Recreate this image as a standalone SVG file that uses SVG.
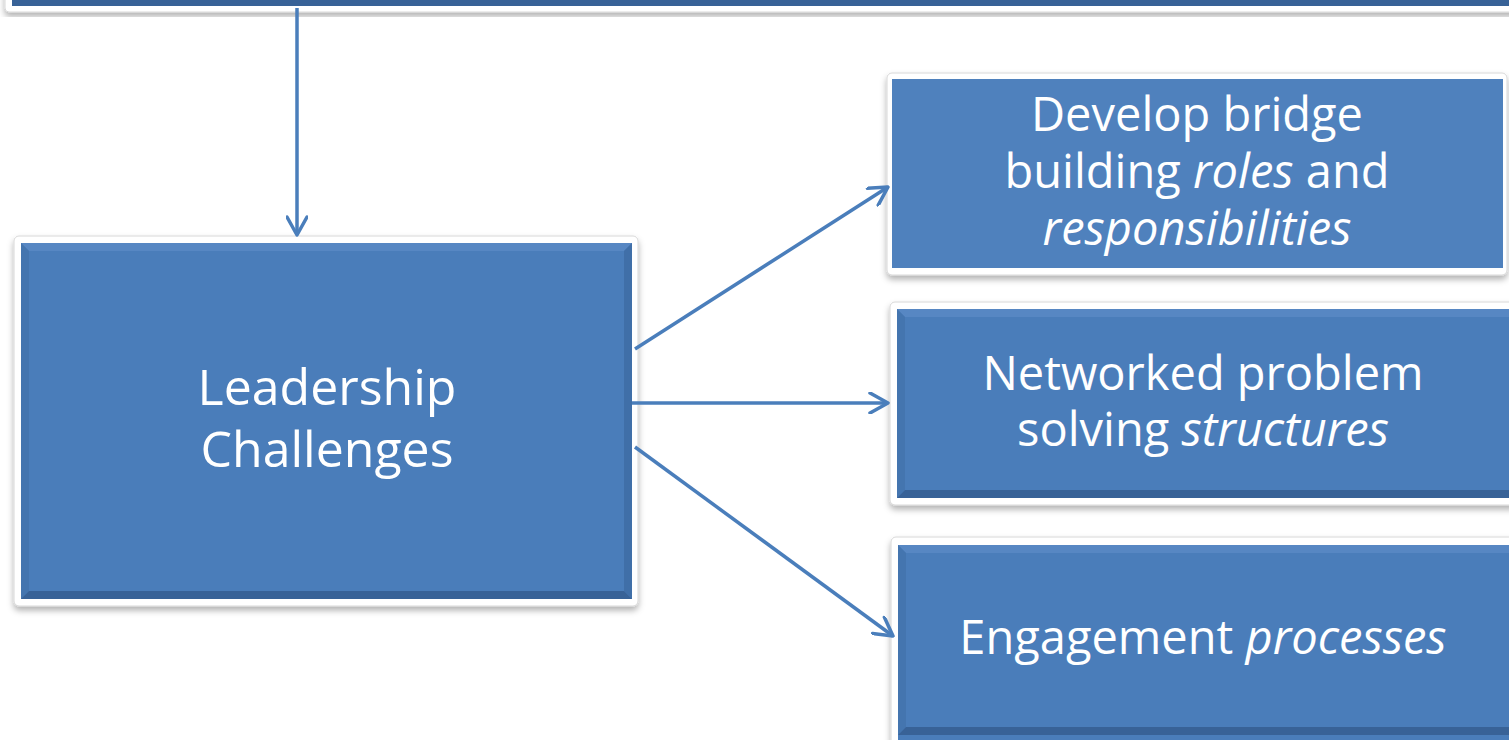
<svg xmlns="http://www.w3.org/2000/svg" width="1509" height="740" viewBox="0 0 1509 740">
  <defs>
    <filter id="shadow" x="-5%" y="-5%" width="110%" height="115%">
      <feDropShadow dx="0" dy="4" stdDeviation="3" flood-color="#000" flood-opacity="0.3"/>
    </filter>
    <marker id="arrow" viewBox="0 0 22 22" refX="20" refY="11" markerWidth="22" markerHeight="22" markerUnits="userSpaceOnUse" orient="auto">
      <path d="M2,1 L20,11 L2,21" fill="none" stroke="#4A7EBB" stroke-width="3.5" stroke-linecap="round" stroke-linejoin="round"/>
    </marker>
  </defs>
  <style>
    .frame { fill: #ffffff; stroke: #d8d8d8; stroke-width: 1; filter: url(#shadow); }
    .face { fill: #4A7DBA; }
    .flat { fill: #4F81BD; }
    .top { fill: #5787C3; }
    .left { fill: #4475AF; }
    .right { fill: #406FA8; }
    .bottom { fill: #386297; }
    .label { font-family: "Open Sans", "Liberation Sans", sans-serif; fill: #ffffff; text-anchor: middle; }
    .conn { fill: none; stroke: #4A7EBB; stroke-width: 3.5; marker-end: url(#arrow); }
  </style>

  <!-- upper block, mostly outside the canvas -->
  <g id="node-top">
    <rect class="frame" x="5" y="-30" width="1520" height="42" rx="4"/>
    <rect class="face" x="12" y="-30" width="1510" height="36"/>
    <rect class="bottom" x="12" y="0" width="1510" height="6"/>
  </g>

  <!-- Leadership Challenges -->
  <g id="node-leadership">
    <rect class="frame" x="14" y="236" width="624" height="370" rx="5"/>
    <rect class="face" x="21" y="243" width="611" height="356"/>
    <polygon class="top" points="21,243 632,243 624,251 29,251"/>
    <polygon class="left" points="21,243 29,251 29,591 21,599"/>
    <polygon class="right" points="632,243 632,599 624,591 624,251"/>
    <polygon class="bottom" points="21,599 29,591 624,591 632,599"/>
    <text class="label" font-size="50"><tspan x="327" y="405">Leadership</tspan><tspan x="327" y="467">Challenges</tspan></text>
  </g>

  <!-- Develop bridge building roles and responsibilities -->
  <g id="node-roles">
    <rect class="frame" x="887" y="73" width="620" height="202" rx="5"/>
    <rect class="flat" x="892" y="79" width="611" height="189"/>
    <text class="label" font-size="47"><tspan x="1197" y="131">Develop bridge</tspan><tspan x="1197" y="188">building <tspan font-style="italic">roles</tspan> and</tspan><tspan x="1197" y="245" font-style="italic">responsibilities</tspan></text>
  </g>

  <!-- Networked problem solving structures -->
  <g id="node-structures">
    <rect class="frame" x="890" y="302" width="630" height="203" rx="5"/>
    <rect class="face" x="897" y="309" width="620" height="189"/>
    <polygon class="top" points="897,309 1517,309 1509,317 905,317"/>
    <polygon class="left" points="897,309 905,317 905,490 897,498"/>
    <polygon class="bottom" points="897,498 905,490 1517,490 1517,498"/>
    <text class="label" font-size="47"><tspan x="1203" y="390">Networked problem</tspan><tspan x="1203" y="446">solving <tspan font-style="italic">structures</tspan></tspan></text>
  </g>

  <!-- Engagement processes -->
  <g id="node-processes">
    <rect class="frame" x="891" y="537" width="630" height="210" rx="5"/>
    <rect class="face" x="898" y="545" width="620" height="195"/>
    <polygon class="top" points="898,545 1518,545 1510,553 906,553"/>
    <polygon class="left" points="898,545 906,553 906,727 898,735"/>
    <polygon class="bottom" points="898,735 906,727 1518,727 1518,735"/>
    <text class="label" font-size="47"><tspan x="1203" y="654">Engagement <tspan font-style="italic">processes</tspan></tspan></text>
  </g>

  <g id="connectors">
    <line class="conn" x1="297" y1="8" x2="297" y2="235"/>
    <line class="conn" x1="635" y1="349" x2="888" y2="187"/>
    <line class="conn" x1="632" y1="403" x2="888" y2="403"/>
    <line class="conn" x1="635" y1="447" x2="893" y2="636"/>
  </g>
</svg>
